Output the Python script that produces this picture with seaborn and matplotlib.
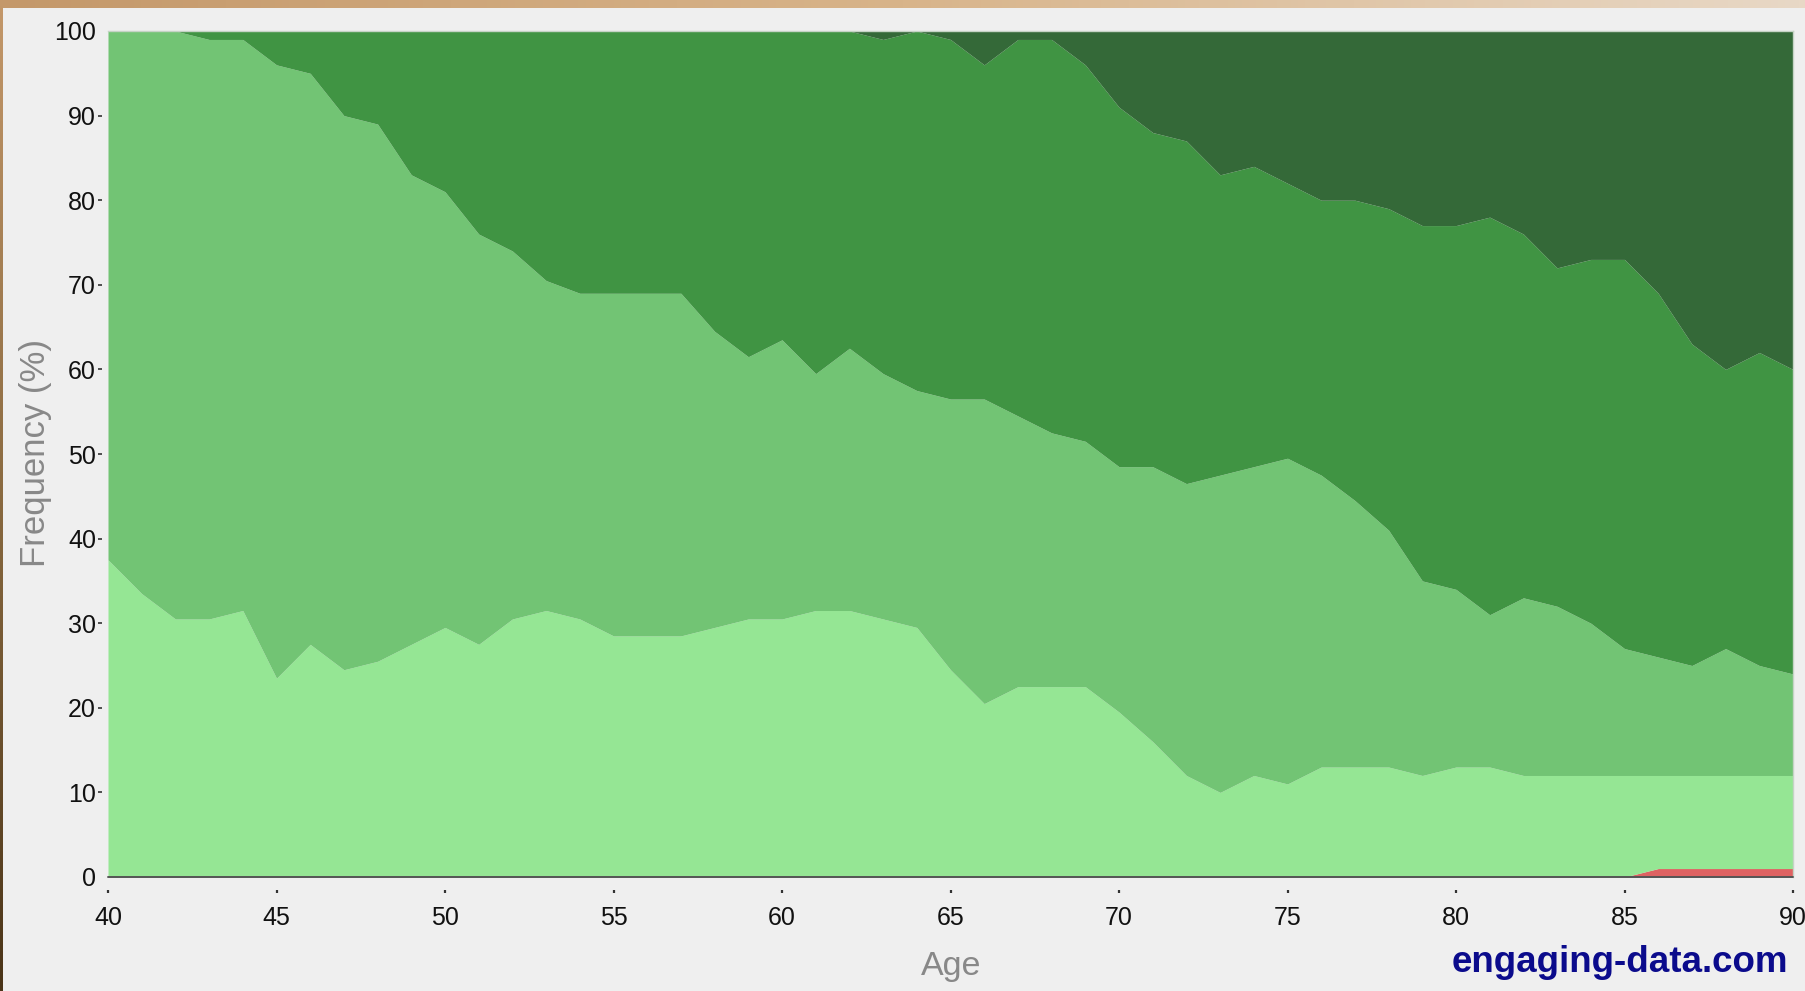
import numpy as np
import matplotlib
matplotlib.use("Agg")
import matplotlib.pyplot as plt
import seaborn as sns

# ==========================================
# Data: stacked frequency (%) by age
# ==========================================
ages = list(range(40, 91))

red = [0] * 46 + [1, 1, 1, 1, 1]

light = [37.5, 33.5, 30.5, 30.5, 31.5, 23.5, 27.5, 24.5, 25.5, 27.5,
         29.5, 27.5, 30.5, 31.5, 30.5, 28.5, 28.5, 28.5, 29.5, 30.5,
         30.5, 31.5, 31.5, 30.5, 29.5, 24.5, 20.5, 22.5, 22.5, 22.5,
         19.5, 16, 12, 10, 12, 11, 13, 13, 13, 12,
         13, 13, 12, 12, 12, 12, 11, 11, 11, 11,
         11]

medium = [62.5, 66.5, 69.5, 68.5, 67.5, 72.5, 67.5, 65.5, 63.5, 55.5,
          51.5, 48.5, 43.5, 39, 38.5, 40.5, 40.5, 40.5, 35, 31,
          33, 28, 31, 29, 28, 32, 36, 32, 30, 29,
          29, 32.5, 34.5, 37.5, 36.5, 38.5, 34.5, 31.5, 28, 23,
          21, 18, 21, 20, 18, 15, 14, 13, 15, 13,
          12]

green = [0, 0, 0, 1, 1, 4, 5, 10, 11, 17,
         19, 24, 26, 29.5, 31, 31, 31, 31, 35.5, 38.5,
         36.5, 40.5, 37.5, 39.5, 42.5, 42.5, 39.5, 44.5, 46.5, 44.5,
         42.5, 39.5, 40.5, 35.5, 35.5, 32.5, 32.5, 35.5, 38, 42,
         43, 47, 43, 40, 43, 46, 43, 38, 33, 37,
         36]

dark = [0] * 23 + [1, 0, 1, 4, 1, 1, 4,
                   9, 12, 13, 17, 16, 18, 20, 20, 21, 23,
                   23, 22, 24, 28, 27, 27, 31, 37, 40, 38,
                   40]

colors = ["#de6262", "#95e694", "#72c474", "#409443", "#346938"]

# ==========================================
# Style
# ==========================================
sns.set_theme(style="white")
plt.rcParams["font.family"] = ["Liberation Sans", "DejaVu Sans"]

W, H = 1806, 991
fig = plt.figure(figsize=(W / 100, H / 100), dpi=100)
fig.patch.set_facecolor("#efefef")

# decorative page border (tan strip on top, brown strip on the left)
top = fig.add_axes([0, 1 - 8 / H, 1, 8 / H])
grad = np.linspace(0, 1, 256).reshape(1, -1)
top.imshow(grad, aspect="auto",
           cmap=matplotlib.colors.LinearSegmentedColormap.from_list(
               "tan", ["#c4986a", "#d8b48a", "#e8d8c6"]))
top.axis("off")
left = fig.add_axes([0, 0, 3 / W, 1])
left.imshow(np.linspace(0, 1, 256).reshape(-1, 1), aspect="auto",
            cmap=matplotlib.colors.LinearSegmentedColormap.from_list(
                "brown", ["#c4986a", "#8a6a40", "#4a3418"]))
left.axis("off")

ax = fig.add_axes([108 / W, 1 - 877 / H, (1793 - 108) / W, (877 - 31) / H])
ax.set_facecolor("#efefef")

ax.stackplot(ages, red, light, medium, green, dark, colors=colors, linewidth=0)

ax.set_xlim(40, 90)
ax.set_ylim(0, 100)
ax.set_xticks(range(40, 91, 5))
ax.set_yticks(range(0, 101, 10))

# spines: visible baseline, ticks set off from the plot
for s in ["top", "right"]:
    ax.spines[s].set_visible(True)
    ax.spines[s].set_color("#c5d3c5")
    ax.spines[s].set_linewidth(1)
ax.spines["left"].set_visible(False)
ax.spines["left"].set_position(("outward", 4.3))
ax.spines["bottom"].set_visible(False)
ax.spines["bottom"].set_position(("outward", 9))
ax.axhline(0, color="#555555", lw=1.4, clip_on=False, zorder=5)

ax.tick_params(axis="y", left=True, length=2.6, width=1.2, color="#333333",
               pad=1.8, labelsize=18, labelcolor="#111111")
ax.tick_params(axis="x", bottom=True, length=2.2, width=1.6, color="#333333",
               pad=10, labelsize=18, labelcolor="#111111")
yt = ax.yaxis.get_major_ticks()
yt[0].tick1line.set_visible(False)
yt[-1].tick1line.set_visible(False)

ax.set_xlabel("")
ax.set_ylabel("")
fig.text(951 / W, 1 - 967 / H, "Age", ha="center", va="center",
         fontsize=24.5, color="#888888")
fig.text(36 / W, 1 - 453 / H, "Frequency (%)", ha="center", va="center",
         rotation=90, fontsize=25, color="#888888")
fig.text(1788 / W, 1 - 962 / H, "engaging-data.com", ha="right", va="center",
         fontsize=26.5, fontweight="bold", color="#0b0b8c")

fig.savefig("out.png", dpi=100, facecolor=fig.get_facecolor())
